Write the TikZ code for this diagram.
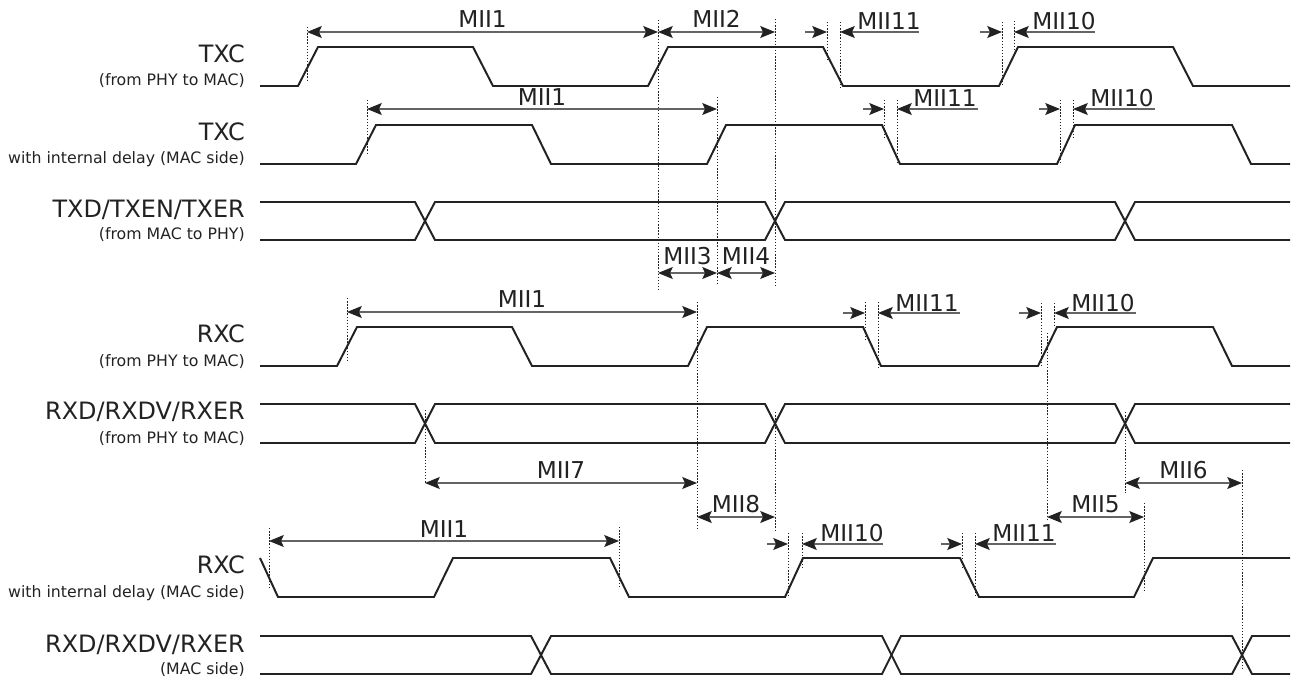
\documentclass[tikz,border=0pt]{standalone}
\usepackage{fontspec}
\setmainfont{DejaVu Sans}
\usetikzlibrary{arrows.meta}
\definecolor{sigcol}{RGB}{34,34,34}
\definecolor{dimcol}{RGB}{100,100,100}

\begin{document}
\begin{tikzpicture}[x=0.025cm, y=-0.025cm,
    >={Stealth[length=10.5pt, width=8.5pt, inset=2pt, color=sigcol]},
    wave/.style={draw=sigcol, line width=1.4pt},
    guide/.style={draw=sigcol, line width=0.5pt, dash pattern=on 1pt off 1.2pt},
    dim/.style={draw=dimcol, line width=0.9pt},
    signame/.style={font=\fontsize{17}{19}\selectfont, text=sigcol, anchor=base east, inner sep=0pt},
    signote/.style={font=\fontsize{11.2}{13}\selectfont, text=sigcol, anchor=base east, inner sep=0pt},
    timing/.style={font=\fontsize{16.5}{18}\selectfont, text=sigcol, anchor=base, inner sep=0pt},
    timingr/.style={timing, anchor=base west}
]
\useasboundingbox (0,0) rectangle (1294,682);

% Signal names
\node[signame] (txc) at (245,63) {TXC};
\node[signote] (txcn) at (245,86) {(from PHY to MAC)};
\node[signame] (txcd) at (245,141) {TXC};
\node[signote] (txcdn) at (245,164) {with internal delay (MAC side)};
\node[signame] (txd) at (245,218) {TXD/TXEN/TXER};
\node[signote] (txdn) at (245,240) {(from MAC to PHY)};
\node[signame] (rxc) at (245,342) {RXC};
\node[signote] (rxcn) at (245,366) {(from PHY to MAC)};
\node[signame] (rxd) at (245,419) {RXD/RXDV/RXER};
\node[signote] (rxdn) at (245,443) {(from PHY to MAC)};
\node[signame] (rxcd) at (245,573) {RXC};
\node[signote] (rxcdn) at (245,597) {with internal delay (MAC side)};
\node[signame] (rxdm) at (245,652) {RXD/RXDV/RXER};
\node[signote] (rxdmn) at (245,674) {(MAC side)};

% Waveforms
\draw[wave] (260,86) -- (298,86) -- (318,47) -- (473,47) -- (493,86) -- (648,86) -- (668,47) -- (823,47) -- (843,86) -- (999,86) -- (1018,47) -- (1173,47) -- (1193,86) -- (1290,86);
\draw[wave] (260,164) -- (356,164) -- (376,125) -- (532,125) -- (551,164) -- (707,164) -- (726,125) -- (882,125) -- (900,164) -- (1057,164) -- (1075,125) -- (1232,125) -- (1251,164) -- (1290,164);
\draw[wave] (260,202) -- (415,202) -- (435,240) -- (765,240) -- (785,202) -- (1115,202) -- (1135,240) -- (1290,240);
\draw[wave] (260,240) -- (415,240) -- (435,202) -- (765,202) -- (785,240) -- (1115,240) -- (1135,202) -- (1290,202);
\draw[wave] (260,366) -- (337,366) -- (357,327) -- (512,327) -- (532,366) -- (688,366) -- (707,327) -- (863,327) -- (881,366) -- (1038,366) -- (1057,327) -- (1213,327) -- (1232,366) -- (1290,366);
\draw[wave] (260,404) -- (415,404) -- (435,443) -- (765,443) -- (785,404) -- (1115,404) -- (1135,443) -- (1290,443);
\draw[wave] (260,443) -- (415,443) -- (435,404) -- (765,404) -- (785,443) -- (1115,443) -- (1135,404) -- (1290,404);
\draw[wave] (260,558) -- (278,597) -- (434,597) -- (453,558) -- (610,558) -- (629,597) -- (785,597) -- (803,558) -- (960,558) -- (979,597) -- (1134,597) -- (1153,558) -- (1290,558);
\draw[wave] (260,636) -- (531,636) -- (551,674) -- (882,674) -- (901,636) -- (1232,636) -- (1252,674) -- (1290,674);
\draw[wave] (260,674) -- (531,674) -- (551,636) -- (882,636) -- (901,674) -- (1232,674) -- (1252,636) -- (1290,636);

% Guide lines
\foreach \x/\ya/\yb in {307/27/82, 658/20/290, 775/19/287, 827/22/60, 840/22/87, 1002/22/86, 1014/21/50,
    367/100/153, 717/97/283, 884/100/138, 897/100/163, 1060/100/162, 1073/100/138,
    347/298/360, 697/302/530, 865/302/340, 878/302/367, 1041/303/367, 1054/303/327, 1047/333/520,
    425/410/484, 775/412/530, 1125/412/493, 1144/503/590, 1242/470/670,
    269/528/588, 619/527/588, 788/533/597, 802/533/570, 962/533/570, 975/533/597}
  \draw[guide] (\x,\ya) -- (\x,\yb);

% Timing parameters, TXC
\draw[dim, <->] (307,32) -- (658,32);
\node[timing] (t1a) at (482.5,28) {MII1};
\draw[dim, <->] (658,32) -- (775,32);
\node[timing] (t2) at (716.5,28) {MII2};
\draw[dim, ->] (805,32) -- (827,32);
\draw[dim, <-] (840,32) -- (919,32);
\node[timingr] (t11a) at (857,30) {MII11};
\draw[dim, ->] (980,32) -- (1002,32);
\draw[dim, <-] (1014,32) -- (1095,32);
\node[timingr] (t10a) at (1032,30) {MII10};

% TXC with delay
\draw[dim, <->] (367,109) -- (717,109);
\node[timing] (t1b) at (542,106) {MII1};
\draw[dim, ->] (863,109) -- (884,109);
\draw[dim, <-] (897,109) -- (978,109);
\node[timingr] (t11b) at (913,107) {MII11};
\draw[dim, ->] (1039,109) -- (1060,109);
\draw[dim, <-] (1073,109) -- (1155,109);
\node[timingr] (t10b) at (1090,107) {MII10};

% Setup / hold
\draw[dim, <->] (658,273) -- (717,273);
\node[timing] (t3) at (687.5,265) {MII3};
\draw[dim, <->] (717,273) -- (775,273);
\node[timing] (t4) at (746,265) {MII4};

% RXC
\draw[dim, <->] (347,312) -- (697,312);
\node[timing] (t1c) at (522,308) {MII1};
\draw[dim, ->] (843,313) -- (865,313);
\draw[dim, <-] (878,313) -- (960,313);
\node[timingr] (t11c) at (895,311) {MII11};
\draw[dim, ->] (1019,313) -- (1041,313);
\draw[dim, <-] (1054,313) -- (1136,313);
\node[timingr] (t10c) at (1071,311) {MII10};

% RXD
\draw[dim, <->] (425,483) -- (697,483);
\node[timing] (t7) at (561,478) {MII7};
\draw[dim, <->] (1125,483) -- (1242,483);
\node[timing] (t6) at (1183.5,478) {MII6};
\draw[dim, <->] (697,517) -- (775,517);
\node[timing] (t8) at (736,512) {MII8};
\draw[dim, <->] (1047,517) -- (1144,517);
\node[timing] (t5) at (1095.5,512) {MII5};

% RXC with delay
\draw[dim, <->] (269,541) -- (619,541);
\node[timing] (t1d) at (444,537) {MII1};
\draw[dim, ->] (767,544) -- (788,544);
\draw[dim, <-] (802,544) -- (883,544);
\node[timingr] (t10d) at (820,541) {MII10};
\draw[dim, ->] (941,544) -- (962,544);
\draw[dim, <-] (975,544) -- (1056,544);
\node[timingr] (t11d) at (992,541) {MII11};

\end{tikzpicture}
\end{document}
